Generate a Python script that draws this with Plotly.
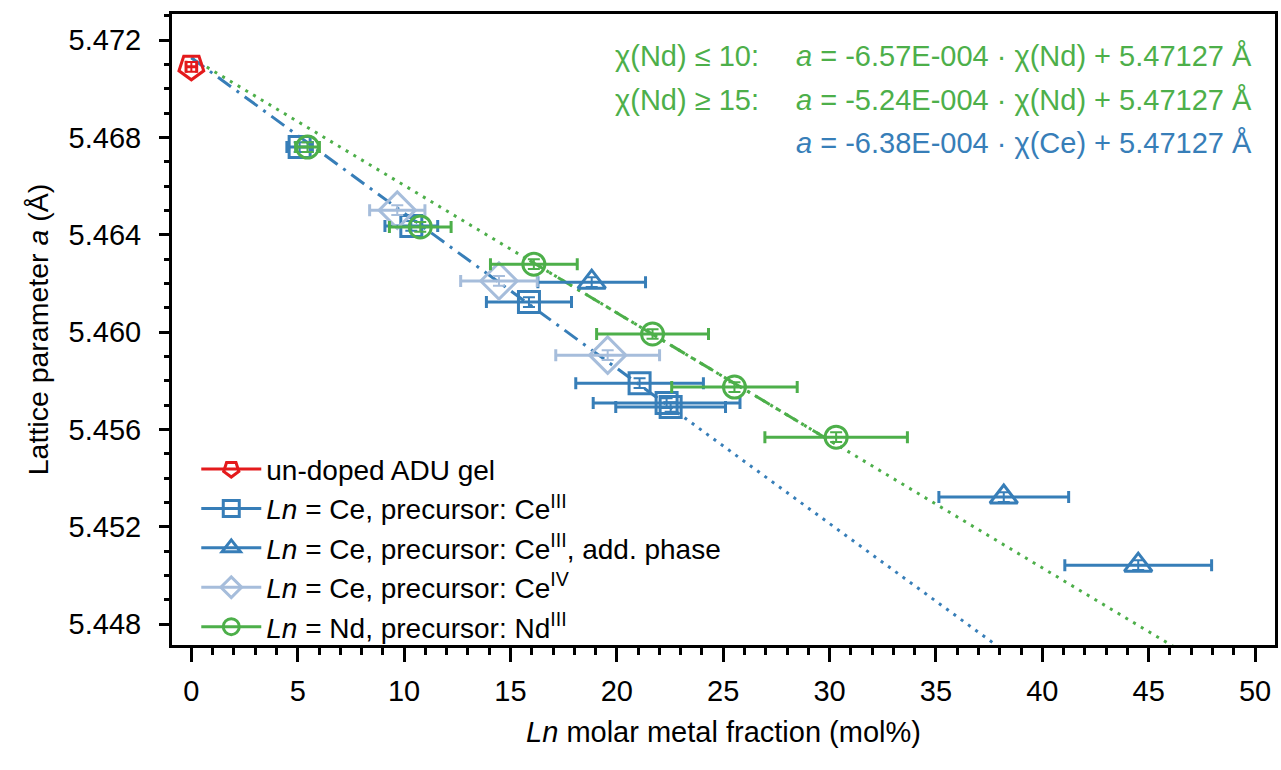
import plotly.graph_objects as go
import numpy as np

# ---------------- data ----------------
undoped_x = [0.0]
undoped_y = [5.4709]
undoped_xerr = [0.25]
undoped_yerr = [0.0002]

ce3_x = [5.09, 10.34, 15.87, 21.07, 22.34, 22.53]
ce3_y = [5.4676, 5.46436, 5.46123, 5.4579, 5.45708, 5.45692]
ce3_xerr = [0.6, 1.24, 2.0, 3.0, 3.45, 2.58]
ce3_yerr = [0.0002, 0.0002, 0.0002, 0.0002, 0.0002, 0.0002]

ce3add_x = [18.82, 38.19, 44.51]
ce3add_y = [5.46205, 5.45322, 5.45042]
ce3add_xerr = [2.53, 3.05, 3.45]
ce3add_yerr = [0.0002, 0.0002, 0.0002]

ce4_x = [9.68, 14.46, 19.57]
ce4_y = [5.46501, 5.4621, 5.45905]
ce4_xerr = [1.3, 1.8, 2.44]
ce4_yerr = [0.0002, 0.0002, 0.0002]

nd3_x = [5.46, 10.76, 16.1, 21.68, 25.53, 30.31]
nd3_y = [5.4676, 5.46432, 5.46279, 5.45992, 5.45774, 5.45568]
nd3_xerr = [0.56, 1.45, 2.04, 2.63, 2.95, 3.35]
nd3_yerr = [0.0002, 0.0002, 0.0002, 0.0002, 0.0002, 0.0002]

# linear fits a = m * x + b
fit_intercept = 5.47127
fit_ce_slope = -6.38e-4
fit_nd_hi_slope = -5.24e-4
fit_ce_solid_range = [0.0, 22.5]
fit_ce_dot_range = [22.5, 45.0]
fit_nd_dot_range = [0.0, 50.0]
fit_nd_solid_range = [15.9, 30.3]

RED = "#e41a1c"
BLUE = "#377eb8"
LBLUE = "#a6bddb"
GREEN = "#4daf4a"
FONT = "Liberation Sans, Arial, sans-serif"
FS_TICK = 29
FS_LEG = 28
FS_ANN = 29
FS_XTITLE = 29
FS_YTITLE = 28.5
LW = 3

fig = go.Figure()


def fit_line(rng, slope, color, dash):
    xs = np.linspace(rng[0], rng[1], 60)
    ys = slope * xs + fit_intercept
    fig.add_trace(go.Scatter(x=xs, y=ys, mode="lines",
                             line=dict(color=color, width=LW, dash=dash),
                             showlegend=False, hoverinfo="skip"))


DOT = "3px,6px"
DASHDOT = "16px,7px,3px,7px"
fit_line(fit_nd_dot_range, fit_nd_hi_slope, GREEN, DOT)
fit_line(fit_ce_dot_range, fit_ce_slope, BLUE, DOT)
fit_line(fit_ce_solid_range, fit_ce_slope, BLUE, DASHDOT)
fit_line(fit_nd_solid_range, fit_nd_hi_slope, GREEN, DASHDOT)

series = [
    ("un-doped ADU gel", undoped_x, undoped_y, undoped_xerr, undoped_yerr, RED, "pentagon-open", 180, 26),
    ("<i>Ln</i> = Ce, precursor: Ce<sup>III</sup>", ce3_x, ce3_y, ce3_xerr, ce3_yerr, BLUE, "square-open", 0, 21),
    ("<i>Ln</i> = Ce, precursor: Ce<sup>III</sup>, add. phase", ce3add_x, ce3add_y, ce3add_xerr, ce3add_yerr, BLUE, "triangle-up-open", 0, 24),
    ("<i>Ln</i> = Ce, precursor: Ce<sup>IV</sup>", ce4_x, ce4_y, ce4_xerr, ce4_yerr, LBLUE, "diamond-open", 0, 28),
    ("<i>Ln</i> = Nd, precursor: Nd<sup>III</sup>", nd3_x, nd3_y, nd3_xerr, nd3_yerr, GREEN, "circle-open", 0, 22),
]

for i, (name, xs, ys, xe, ye, col, sym, ang, sz) in enumerate(series):
    fig.add_trace(go.Scatter(
        x=xs, y=ys, mode="markers", showlegend=False,
        marker=dict(symbol=sym, size=sz, angle=ang, color=col, line=dict(color=col, width=LW)),
        error_x=dict(type="data", array=xe, visible=True, color=col, thickness=LW, width=6),
        error_y=dict(type="data", array=ye, visible=True, color=col, thickness=2, width=6),
    ))
    # legend proxy
    fig.add_trace(go.Scatter(
        x=[None], y=[None], mode="lines+markers", name=name, legendgroup=f"g{i}",
        marker=dict(symbol=sym, size=sz, angle=ang, color=col, line=dict(color=col, width=LW)),
        line=dict(color=col, width=LW),
    ))

ann_font = dict(family=FONT, size=FS_ANN)
annos = [
    ("χ(Nd) ≤ 10:", "<i>a</i> = -6.57E-004 · χ(Nd) + 5.47127 Å", GREEN, 56),
    ("χ(Nd) ≥ 15:", "<i>a</i> = -5.24E-004 · χ(Nd) + 5.47127 Å", GREEN, 100),
    ("", "<i>a</i> = -6.38E-004 · χ(Ce) + 5.47127 Å", BLUE, 143),
]
for lab, eq, col, ypx in annos:
    yp = (645 - ypx) / (645 - 14)
    fig.add_annotation(x=(1257 - 172) / (1278 - 172), y=yp, xref="paper", yref="paper",
                       text=eq, showarrow=False, xanchor="right", yanchor="middle",
                       font=dict(ann_font, color=col))
    if lab:
        fig.add_annotation(x=(614 - 172) / (1278 - 172), y=yp, xref="paper", yref="paper",
                           text=lab, showarrow=False, xanchor="left", yanchor="middle",
                           font=dict(ann_font, color=col))

fig.update_layout(
    width=1281, height=770,
    margin=dict(l=172, r=3, t=14, b=125),
    paper_bgcolor="white", plot_bgcolor="white",
    font=dict(family=FONT, size=FS_TICK, color="black"),
    showlegend=True,
    legend=dict(x=0.022, y=0.318, xanchor="left", yanchor="top",
                bgcolor="rgba(0,0,0,0)", font=dict(family=FONT, size=FS_LEG),
                itemwidth=60, tracegroupgap=0, traceorder="normal"),
    xaxis=dict(range=[-0.91, 50.94], showgrid=False, zeroline=False,
               showline=True, linecolor="black", linewidth=3, mirror=True,
               ticks="outside", ticklen=14, tickwidth=2.5, tickcolor="black",
               tick0=0, dtick=5, tickfont=dict(family=FONT, size=FS_TICK),
               ticklabelstandoff=4,
               minor=dict(dtick=1, ticks="outside", ticklen=7, tickwidth=2.5, tickcolor="black"),
               title=dict(text="<i>Ln</i> molar metal fraction (mol%)", standoff=16,
                          font=dict(family=FONT, size=FS_XTITLE)),
               ),
    yaxis=dict(range=[5.44714, 5.47307], showgrid=False, zeroline=False,
               showline=True, linecolor="black", linewidth=3, mirror=True,
               ticks="outside", ticklen=10, tickwidth=2.5, tickcolor="black",
               tick0=5.448, dtick=0.004, tickformat=".3f",
               tickfont=dict(family=FONT, size=FS_TICK),
               minor=dict(dtick=0.001, ticks="outside", ticklen=5, tickwidth=2.5, tickcolor="black"),
               ticklabelstandoff=12,
               title=dict(text="Lattice parameter <i>a</i> (Å)", standoff=12,
                          font=dict(family=FONT, size=FS_YTITLE)),
               ),
)

fig.write_html("out.html")
